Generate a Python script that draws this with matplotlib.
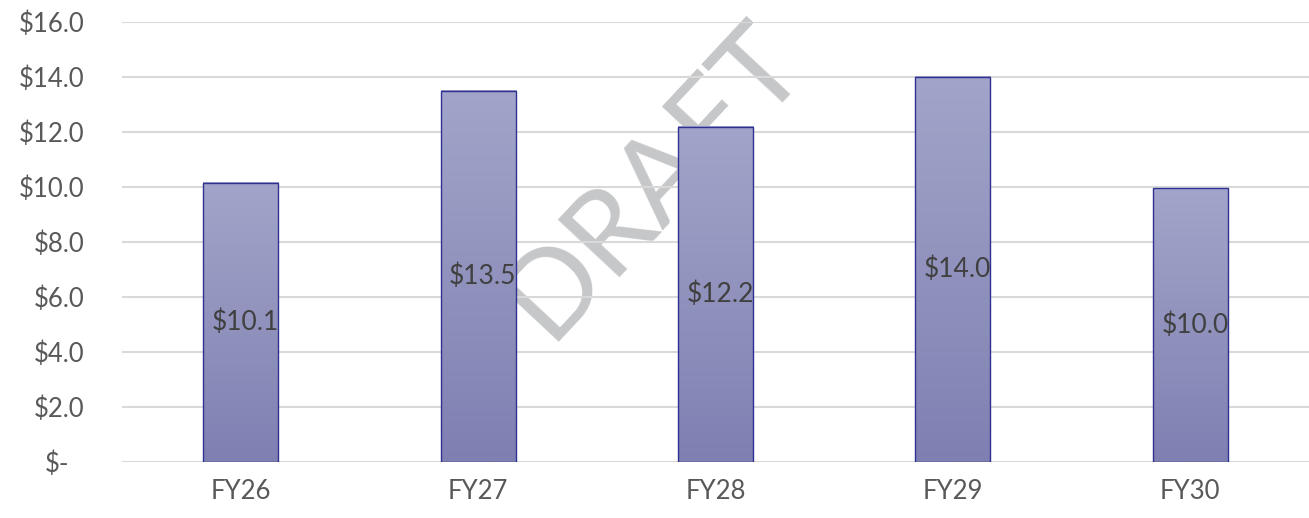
import matplotlib.pyplot as plt
import matplotlib.transforms as mtransforms
import numpy as np
from matplotlib.colors import LinearSegmentedColormap

years = ["FY26", "FY27", "FY28", "FY29", "FY30"]
values = [10.15, 13.5, 12.2, 14.0, 9.95]
labels = ["$10.1", "$13.5", "$12.2", "$14.0", "$10.0"]
yticks = [0, 2, 4, 6, 8, 10, 12, 14, 16]
ytick_labels = ["$-", "$2.0", "$4.0", "$6.0", "$8.0", "$10.0", "$12.0", "$14.0", "$16.0"]

plt.rcParams['font.family'] = ['Lato', 'DejaVu Sans']

fig = plt.figure(figsize=(13.09, 5.18), dpi=100)
ax = fig.add_axes([0.0932, 0.108, 0.9068, 0.8495])
ax.patch.set_visible(False)

x = np.arange(len(years))
width = 0.316
grad_cmap = LinearSegmentedColormap.from_list("bar", ["#7f80b2", "#a2a5c9"])
grad = np.linspace(0, 1, 256).reshape(-1, 1)

bars = ax.bar(x, values, width=width, facecolor="none", edgecolor="#2e3192",
              linewidth=1.0, zorder=3)
for b in bars:
    x0, w, h = b.get_x(), b.get_width(), b.get_height()
    ax.imshow(grad, cmap=grad_cmap, origin="lower", aspect="auto",
              extent=[x0, x0 + w, 0, h], zorder=2)

for xi, v, lab in zip(x, values, labels):
    ax.text(xi + 0.02, v / 2, lab, ha="center", va="center", fontsize=19,
            color="#404040", zorder=4)

ax.set_xlim(-0.5, len(years) - 0.5)
ax.set_ylim(0, 16)
ax.set_yticks(yticks)
ax.set_yticklabels(ytick_labels)
ax.set_xticks(x)
ax.set_xticklabels(years)
ax.tick_params(axis="y", length=0, pad=27, labelsize=18.5, labelcolor="#595959")
ax.tick_params(axis="x", length=0, pad=12, labelsize=18.5, labelcolor="#595959")
ax.grid(axis="y", color="#d9d9d9", linewidth=1.5, zorder=0)
ax.set_axisbelow(True)
for s in ax.spines.values():
    s.set_visible(False)

# zero label sits left in accounting format
zl = ax.get_yticklabels()[0]
zl.set_transform(zl.get_transform() + mtransforms.ScaledTranslation(-15 / 100, 0, fig.dpi_scale_trans))

# watermark behind the chart
fig.text(0.499, 0.652, "DRAFT", rotation=47, ha="center", va="center",
         fontsize=85, color="#c6c7c9", zorder=-1)

fig.savefig("out.png", dpi=100, facecolor="white")
